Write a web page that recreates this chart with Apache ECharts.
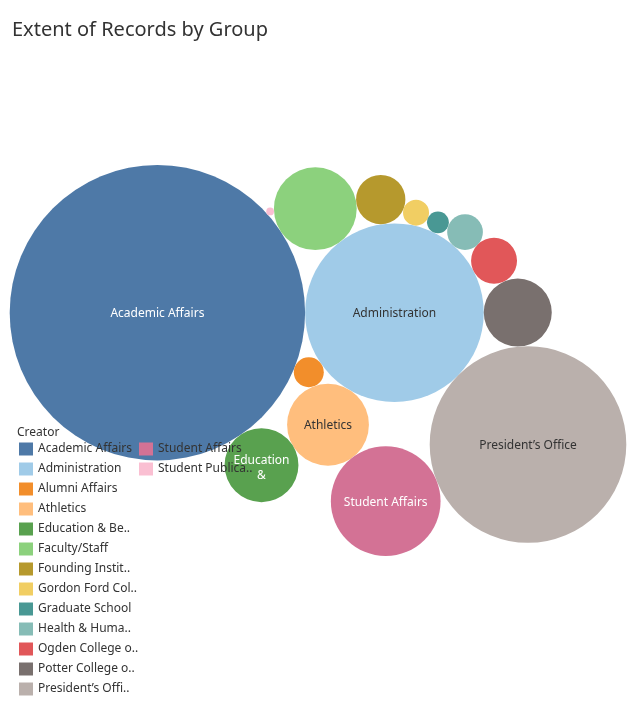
<!DOCTYPE html>
<html><head><meta charset="utf-8">
<script src="https://cdn.jsdelivr.net/npm/echarts@6/dist/echarts.min.js"></script>
<style>html,body{margin:0;padding:0;background:#fff}#chart{width:634px;height:713px}</style>
</head><body><div id="chart"></div>
<script>
// ---- data ----
var creators = ['Academic Affairs','Administration','Alumni Affairs','Athletics','Education & Behavioral Sciences','Faculty/Staff','Founding Institutions','Gordon Ford College of Business','Graduate School','Health & Human Services','Ogden College of Science & Engineering','Potter College of Arts & Letters','President\u2019s Office','Student Affairs','Student Publications'];
var extent = [2190, 801, 22.5, 168, 137, 172, 61, 17, 12, 32, 53, 116, 970, 302, 1.5];
var colors = ['#4e79a7','#a0cbe8','#f28e2b','#ffbe7d','#59a14f','#8cd17d','#b6992d','#f1ce63','#499894','#86bcb6','#e15759','#79706e','#bab0ac','#d37295','#fabfd2'];
var legendLabels = ['Academic Affairs','Administration','Alumni Affairs','Athletics','Education & Be..','Faculty/Staff','Founding Instit..','Gordon Ford Col..','Graduate School','Health & Huma..','Ogden College o..','Potter College o..','President\u2019s Offi..','Student Affairs','Student Publica..'];
var bubbleLabels = ['Academic Affairs','Administration','','Athletics','Education\n&','','','','','','','','President\u2019s Office','Student Affairs',''];
var labelColors = ['#ffffff','#333333','#333333','#333333','#ffffff','#333333','#ffffff','#333333','#ffffff','#333333','#ffffff','#ffffff','#333333','#ffffff','#333333'];
// packing topology: [circle, tangent to, tangent to, side]
var packOrder = [
  ['Academic Affairs', null, null, 0],
  ['Administration', 'Academic Affairs', null, 0],
  ['Alumni Affairs', 'Academic Affairs', 'Administration', 1],
  ['Athletics', 'Alumni Affairs', 'Administration', 1],
  ['Education & Behavioral Sciences', 'Academic Affairs', 'Athletics', 1],
  ['Faculty/Staff', 'Academic Affairs', 'Administration', -1],
  ['Founding Institutions', 'Faculty/Staff', 'Administration', -1],
  ['Gordon Ford College of Business', 'Founding Institutions', 'Administration', -1],
  ['Graduate School', 'Gordon Ford College of Business', 'Administration', -1],
  ['Health & Human Services', 'Graduate School', 'Administration', -1],
  ['Ogden College of Science & Engineering', 'Health & Human Services', 'Administration', -1],
  ['Potter College of Arts & Letters', 'Ogden College of Science & Engineering', 'Administration', -1],
  ['President\u2019s Office', 'Potter College of Arts & Letters', 'Administration', -1],
  ['Student Affairs', 'President\u2019s Office', 'Athletics', -1],
  ['Student Publications', 'Academic Affairs', 'Faculty/Staff', -1]
];

// ---- packed layout (radius ~ sqrt(value)) ----
var pos = {};
function tangent(a, b, rc, side) {
  var dx = b.x - a.x, dy = b.y - a.y, d = Math.sqrt(dx*dx + dy*dy);
  var da = a.r + rc, db = b.r + rc;
  var u = (da*da - db*db + d*d) / (2*d);
  var h = Math.sqrt(Math.max(0, da*da - u*u));
  var ex = dx / d, ey = dy / d;
  return {x: a.x + u*ex - side*h*ey, y: a.y + u*ey + side*h*ex, r: rc};
}
packOrder.forEach(function (p) {
  var r = Math.sqrt(extent[creators.indexOf(p[0])]);
  if (!p[1]) pos[p[0]] = {x: 0, y: 0, r: r};
  else if (!p[2]) { var a = pos[p[1]]; pos[p[0]] = {x: a.x + a.r + r, y: a.y, r: r}; }
  else pos[p[0]] = tangent(pos[p[1]], pos[p[2]], r, p[3]);
});
var x0 = Infinity, x1 = -Infinity, y0 = Infinity, y1 = -Infinity;
creators.forEach(function (n) {
  var c = pos[n];
  x0 = Math.min(x0, c.x - c.r); x1 = Math.max(x1, c.x + c.r);
  y0 = Math.min(y0, c.y - c.r); y1 = Math.max(y1, c.y + c.r);
});
var G = {left: 9, right: 7, top: 165, bottom: 157};
var gw = 634 - G.left - G.right, gh = 713 - G.top - G.bottom;
var s = Math.min(gw / (x1 - x0), gh / (y1 - y0));
var cxm = (x0 + x1) / 2, cym = (y0 + y1) / 2;

var chart = echarts.init(document.getElementById('chart'), null, {renderer: 'canvas'});
var FONT = '"Noto Sans", sans-serif';
var series = creators.map(function (name, i) {
  var c = pos[name];
  return {
    type: 'custom', name: name, coordinateSystem: 'cartesian2d',
    itemStyle: {color: colors[i]},
    data: [[c.x, c.y, c.r]],
    silent: true,
    renderItem: function (params, api) {
      var p = api.coord([api.value(0), api.value(1)]);
      var r = api.size([api.value(2), 0])[0];
      var el = {type: 'circle', shape: {cx: p[0], cy: p[1], r: r}, style: {fill: api.visual('color')}};
      if (bubbleLabels[i]) {
        el.textContent = {type: 'text', style: {text: bubbleLabels[i], fill: labelColors[i], fontSize: 12, fontFamily: FONT, lineHeight: 15, align: 'center', verticalAlign: 'middle'}};
        el.textConfig = {position: 'inside', offset: [0, bubbleLabels[i].indexOf('\n') >= 0 ? 3 : 1]};
      }
      return el;
    }
  };
});

var legendBase = {
  orient: 'vertical', top: 442, padding: 0,
  itemWidth: 14, itemHeight: 13, itemGap: 6, icon: 'rect', selectedMode: false,
  formatter: function (name) { return legendLabels[creators.indexOf(name)]; },
  textStyle: {fontFamily: FONT, fontSize: 12, color: '#333333', lineHeight: 14}
};

chart.setOption({
  animation: false,
  backgroundColor: '#ffffff',
  title: [
    {text: 'Extent of Records by Group', left: 12, top: 20, padding: 0,
     textStyle: {fontFamily: FONT, fontSize: 20, fontWeight: 'normal', color: '#333333'}},
    {text: 'Creator', left: 17, top: 426.5, padding: 0,
     textStyle: {fontFamily: FONT, fontSize: 12, fontWeight: 'normal', color: '#333333'}}
  ],
  grid: {left: G.left, right: G.right, top: G.top, bottom: G.bottom},
  xAxis: {type: 'value', show: false, min: cxm - gw / s / 2, max: cxm + gw / s / 2},
  yAxis: {type: 'value', show: false, inverse: true, min: cym - gh / s / 2, max: cym + gh / s / 2},
  legend: [
    Object.assign({}, legendBase, {left: 19, data: creators.slice(0, 13)}),
    Object.assign({}, legendBase, {left: 139, data: creators.slice(13)})
  ],
  series: series
});
</script></body></html>
